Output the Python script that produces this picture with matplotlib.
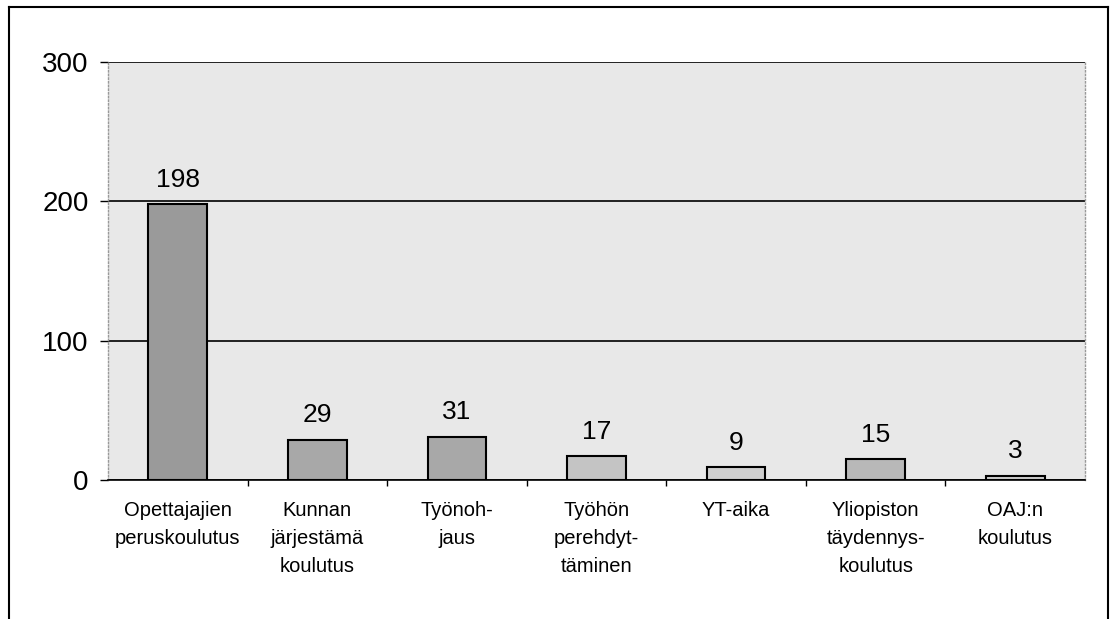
import matplotlib
matplotlib.use("Agg")
import matplotlib.pyplot as plt
from matplotlib.lines import Line2D

plt.rcParams['font.family'] = ['Liberation Sans', 'DejaVu Sans']

categories = ['Opettajajien\nperuskoulutus', 'Kunnan\njärjestämä\nkoulutus', 'Työnoh-\njaus',
              'Työhön\nperehdyt-\ntäminen', 'YT-aika', 'Yliopiston\ntäydennys-\nkoulutus', 'OAJ:n\nkoulutus']
values = [198, 29, 31, 17, 9, 15, 3]
bar_colors = ['#9a9a9a', '#a8a8a8', '#a8a8a8', '#c4c4c4', '#cfcfcf', '#b8b8b8', '#cfcfcf']

fig = plt.figure(figsize=(11.14, 6.19), dpi=100)
ax = fig.add_axes([108/1114, 1 - 480/619, (1085 - 108)/1114, (480 - 62)/619])
ax.set_facecolor('#e8e8e8')

x = range(len(values))
ax.bar(x, values, width=0.42, color=bar_colors, edgecolor='black', linewidth=1.5, zorder=3)
for i, v in enumerate(values):
    ax.annotate(str(v), (i, v), xytext=(0, 9), textcoords='offset points',
                ha='center', va='bottom', fontsize=19)

ax.set_xlim(-0.5, len(values) - 0.5)
ax.set_ylim(0, 300)
ax.set_yticks([0, 100, 200, 300])
ax.tick_params(axis='y', labelsize=20, length=6, width=1, direction='out', pad=8)
ax.grid(axis='y', color='black', linewidth=1.2, zorder=1)

# category labels centred, ticks at category boundaries
ax.set_xticks(list(x))
ax.set_xticklabels(categories, fontsize=14.5, linespacing=1.62, va='top')
ax.tick_params(axis='x', length=0, pad=15)
ax.set_xticks([i + 0.5 for i in range(len(values) - 1)], minor=True)
ax.tick_params(axis='x', which='minor', length=4, width=1, direction='out')

for s in ['left', 'right', 'top']:
    ax.spines[s].set_color('#999999')
    ax.spines[s].set_linestyle(':')
    ax.spines[s].set_linewidth(1)
ax.spines['top'].set_visible(False)
ax.spines['bottom'].set_color('black')
ax.spines['bottom'].set_linewidth(1.2)

# outer frame
fig.add_artist(Line2D([9/1114, 9/1114], [0, 1 - 7/619], color='black', linewidth=1.5))
fig.add_artist(Line2D([9/1114, 1108/1114], [1 - 7/619, 1 - 7/619], color='black', linewidth=1.5))
fig.add_artist(Line2D([1108/1114, 1108/1114], [0, 1 - 7/619], color='black', linewidth=1.5))

fig.savefig('out.png', dpi=100)
